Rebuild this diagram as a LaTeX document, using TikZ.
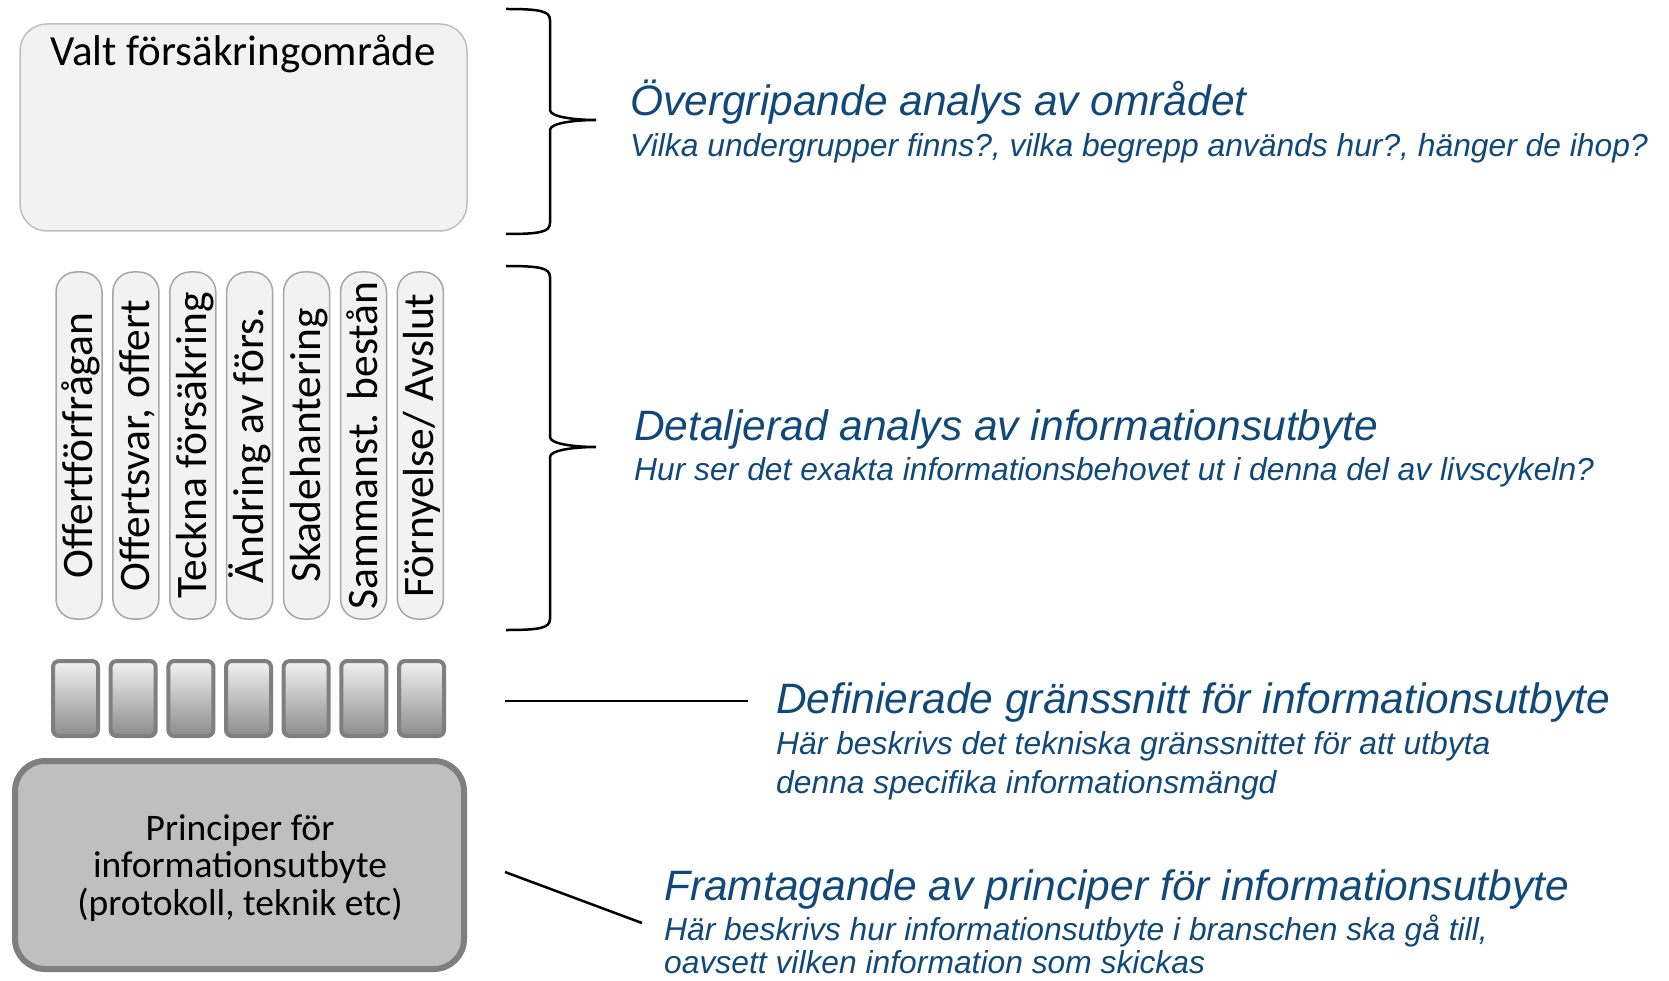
\documentclass[tikz,border=0pt]{standalone}
\usepackage{fontspec}
\setmainfont{Carlito}
\newfontfamily\arialfont{Liberation Sans}
\definecolor{boxfill}{HTML}{F2F2F2}
\definecolor{pillgray}{HTML}{A6A6A6}
\definecolor{topgray}{HTML}{BFBFBF}
\definecolor{basefill}{HTML}{BFBFBF}
\definecolor{basegray}{HTML}{7F7F7F}
\definecolor{gradtop}{HTML}{F2F2F2}
\definecolor{gradmid}{HTML}{D4D4D4}
\definecolor{gradbot}{HTML}{8C8C8C}
\definecolor{titleblue}{RGB}{16,73,121}
\begin{document}
\begin{tikzpicture}[x=1pt,y=-1pt,
  topbox/.style={draw=topgray,fill=boxfill,line width=1.5,rounded corners=27,minimum width=447,minimum height=207,inner sep=0},
  pill/.style={draw=pillgray,fill=boxfill,line width=1.5,rounded corners=20,minimum width=347,minimum height=46,inner sep=0,text height=33,text depth=6,font=\fontsize{43.5}{50}\selectfont},
  ifbox/.style={draw=basegray,line width=4,rounded corners=6,top color=gradtop,middle color=gradmid,bottom color=gradbot,minimum width=45,minimum height=75,inner sep=0},
  basebox/.style={draw=basegray,fill=basefill,line width=6,rounded corners=30,minimum width=449,minimum height=208,inner sep=0},
  basetext/.style={inner sep=0,align=center,font=\fontsize{37.5}{37.5}\selectfont},
  bluetitle/.style={anchor=base west,inner sep=0,text=titleblue,font=\arialfont\itshape\fontsize{42.5}{50}\selectfont},
  bluesub/.style={anchor=base west,inner sep=0,text=titleblue,font=\arialfont\itshape\fontsize{31.8}{38}\selectfont},
  conn/.style={draw=black,line width=2.5},
  bracepath/.style={draw=black,line width=2.5}]
\useasboundingbox (0,0) rectangle (1669,981);
\clip (0,0) rectangle (1669,981);

% top area box
\node[topbox] (area) at (243.5,127.5) {};
\node[anchor=base,inner sep=0,font=\fontsize{43}{50}\selectfont] (areatxt) at (243,66) {Valt försäkringområde};

% pills
\foreach \t [count=\i] in {Offertförfrågan,{Offertsvar, offert},Teckna försäkring,Ändring av förs.,Skadehantering,Sammanst. bestån,Förnyelse/ Avslut}{
  \node[pill,rotate=90] (p\i) at ({79+56.9*(\i-1)},445.5) {\t};
}

% interface boxes
\foreach \i in {1,...,7}{
  \node[ifbox] (g\i) at ({75.5+57.67*(\i-1)},698.5) {};
}

% base box
\node[basebox] (princ) at (239.5,865) {};
\node[basetext] (princtxt) at (240,868) {Principer för\\informationsutbyte\\(protokoll, teknik etc)};

% braces
\coordinate (b1top) at (506,9);
\coordinate (b1tip) at (596,120);
\coordinate (b1bot) at (506,234);
\draw[bracepath] (b1top) .. controls (540,9) and (550,11) .. (550,20) -- (550,110)
  .. controls (550,117) and (575,120) .. (b1tip)
  .. controls (575,120) and (550,123) .. (550,130) -- (550,223)
  .. controls (550,232) and (540,234) .. (b1bot);
\coordinate (b2top) at (506,266);
\coordinate (b2tip) at (596,447);
\coordinate (b2bot) at (506,630);
\draw[bracepath] (b2top) .. controls (540,266) and (550,268) .. (550,277) -- (550,437)
  .. controls (550,444) and (575,447) .. (b2tip)
  .. controls (575,447) and (550,450) .. (550,457) -- (550,619)
  .. controls (550,628) and (540,630) .. (b2bot);

% connectors
\coordinate (l3a) at (505,701);
\coordinate (l3b) at (748,701);
\draw[conn] (l3a) -- (l3b);
\coordinate (l4a) at (505,872);
\coordinate (l4b) at (642,923);
\draw[conn] (l4a) -- (l4b);

% blue texts
\node[bluetitle] (t1) at (630,116) {Övergripande analys av området};
\node[bluesub] (s1) at (630,157) {Vilka undergrupper finns?, vilka begrepp används hur?, hänger de ihop?};
\node[bluetitle] (t2) at (634,440) {Detaljerad analys av informationsutbyte};
\node[bluesub] (s2) at (634,480) {Hur ser det exakta informationsbehovet ut i denna del av livscykeln?};
\node[bluetitle] (t3) at (776,713) {Definierade gränssnitt för informationsutbyte};
\node[bluesub] (s3a) at (776,754) {Här beskrivs det tekniska gränssnittet för att utbyta};
\node[bluesub] (s3b) at (776,793) {denna specifika informationsmängd};
\node[bluetitle] (t4) at (664,900) {Framtagande av principer för informationsutbyte};
\node[bluesub] (s4a) at (664,940) {Här beskrivs hur informationsutbyte i branschen ska gå till,};
\node[bluesub] (s4b) at (664,973) {oavsett vilken information som skickas};
\end{tikzpicture}
\end{document}
